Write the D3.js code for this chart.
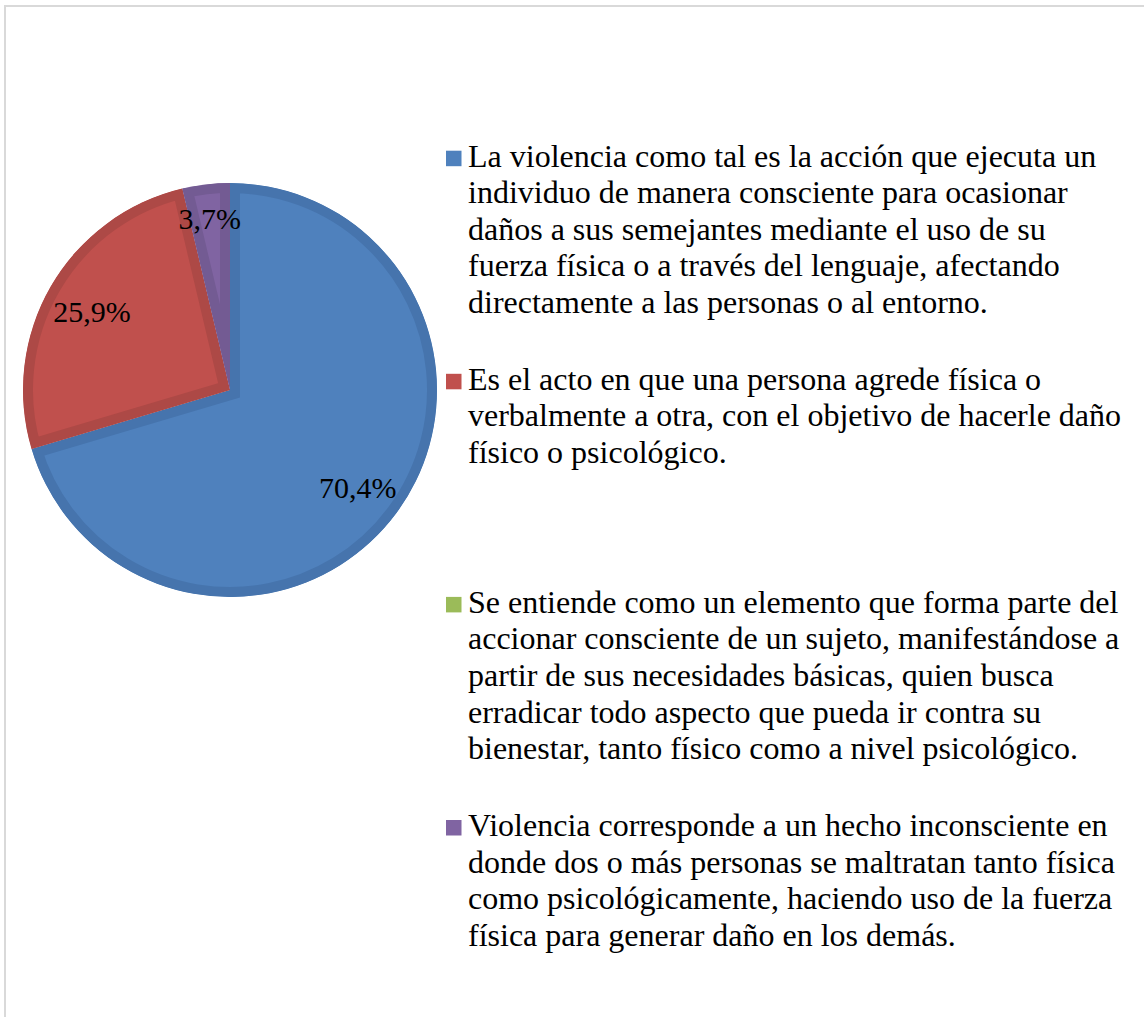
<!DOCTYPE html>
<html lang="es">
<head>
  <meta charset="utf-8" />
  <title>Pie chart</title>
  <style>
    body {
      margin: 0;
      background: #fff;
      font-family: "Liberation Serif", "Times New Roman", serif;
    }
  </style>
</head>
<body>
  <div id="graphic"></div>

  <script src="https://cdn.jsdelivr.net/npm/d3@7/dist/d3.min.js"></script>
  <script>
    // data
    var categories = ["A", "B", "C", "D"];
    var values = [70.4, 25.9, 0, 3.7];
    var valueLabels = ["70,4%", "25,9%", "0,0%", "3,7%"];
    var legendLines = [
      ["La violencia como tal es la acción que ejecuta un",
       "individuo de manera consciente para ocasionar",
       "daños a sus semejantes mediante el uso de su",
       "fuerza física o a través del lenguaje, afectando",
       "directamente a las personas o al entorno."],
      ["Es el acto en que una persona agrede física o",
       "verbalmente a otra, con el objetivo de hacerle daño",
       "físico o psicológico."],
      ["Se entiende como un elemento que forma parte del",
       "accionar consciente de un sujeto, manifestándose a",
       "partir de sus necesidades básicas, quien busca",
       "erradicar todo aspecto que pueda ir contra su",
       "bienestar, tanto físico como a nivel psicológico."],
      ["Violencia corresponde a un hecho inconsciente en",
       "donde dos o más personas se maltratan tanto física",
       "como psicológicamente, haciendo uso de la fuerza",
       "física para generar daño en los demás."]
    ];

    var fills = ["#4f81bd", "#c0504d", "#9bbb59", "#8064a2"];
    var borders = ["#4674ad", "#ad4946", "#8aa84f", "#735b93"];

    var width = 1144, height = 1017;
    var cx = 230, cy = 390, radius = 207;
    var border = 10;
    var fontSize = 32, lineHeight = 36.6;

    var svg = d3.select("#graphic").append("svg")
      .attr("width", width)
      .attr("height", height);

    // chart area frame
    svg.append("path")
      .attr("d", "M5," + (height + 5) + "V6H" + (width + 5))
      .attr("fill", "none")
      .attr("stroke", "#d9d9d9")
      .attr("stroke-width", 2);

    var data = categories.map(function(c, i) {
      return { cat: c, value: values[i], label: valueLabels[i], i: i };
    });

    var pie = d3.pie()
      .sort(null)
      .value(function(d) { return d.value; });

    var arc = d3.arc().innerRadius(0).outerRadius(radius);

    var arcs = pie(data).filter(function(d) { return d.data.value > 0; });

    var g = svg.append("g")
      .attr("transform", "translate(" + cx + "," + cy + ")");

    var defs = svg.append("defs");
    defs.selectAll("clipPath")
      .data(arcs)
      .enter().append("clipPath")
      .attr("id", function(d) { return "clip" + d.data.i; })
      .append("path")
      .attr("d", arc);

    // slices with an inner border
    g.selectAll("path.slice")
      .data(arcs)
      .enter().append("path")
      .attr("class", "slice")
      .attr("d", arc)
      .attr("fill", function(d) { return fills[d.data.i]; })
      .attr("stroke", function(d) { return borders[d.data.i]; })
      .attr("stroke-width", border * 2)
      .attr("stroke-linejoin", "miter")
      .attr("clip-path", function(d) { return "url(#clip" + d.data.i + ")"; });

    // data labels
    g.selectAll("text.lbl")
      .data(arcs)
      .enter().append("text")
      .attr("class", "lbl")
      .attr("transform", function(d) {
        var r = d.data.value < 10 ? radius * 0.84 : radius * 0.77;
        var p = d3.arc().innerRadius(r).outerRadius(r).centroid(d);
        return "translate(" + p[0] + "," + (p[1] + 2) + ")";
      })
      .attr("text-anchor", "middle")
      .attr("dy", "0.34em")
      .attr("font-size", 30)
      .attr("fill", "#000")
      .text(function(d) { return d.data.label; });

    // legend
    var ly = d3.scalePoint()
      .domain(categories)
      .range([166.7, 836]);

    var legend = svg.append("g");
    var items = legend.selectAll("g.item")
      .data(data)
      .enter().append("g")
      .attr("class", "item")
      .attr("transform", function(d) { return "translate(0," + ly(d.cat) + ")"; });

    items.append("rect")
      .attr("x", 446)
      .attr("y", -16)
      .attr("width", 15.5)
      .attr("height", 15.5)
      .attr("fill", function(d) { return fills[d.i]; });

    items.append("text")
      .attr("font-size", fontSize)
      .attr("fill", "#000")
      .selectAll("tspan")
      .data(function(d) { return legendLines[d.i]; })
      .enter().append("tspan")
      .attr("x", 468)
      .attr("y", function(d, j) { return j * lineHeight; })
      .text(function(d) { return d; });
  </script>
</body>
</html>
